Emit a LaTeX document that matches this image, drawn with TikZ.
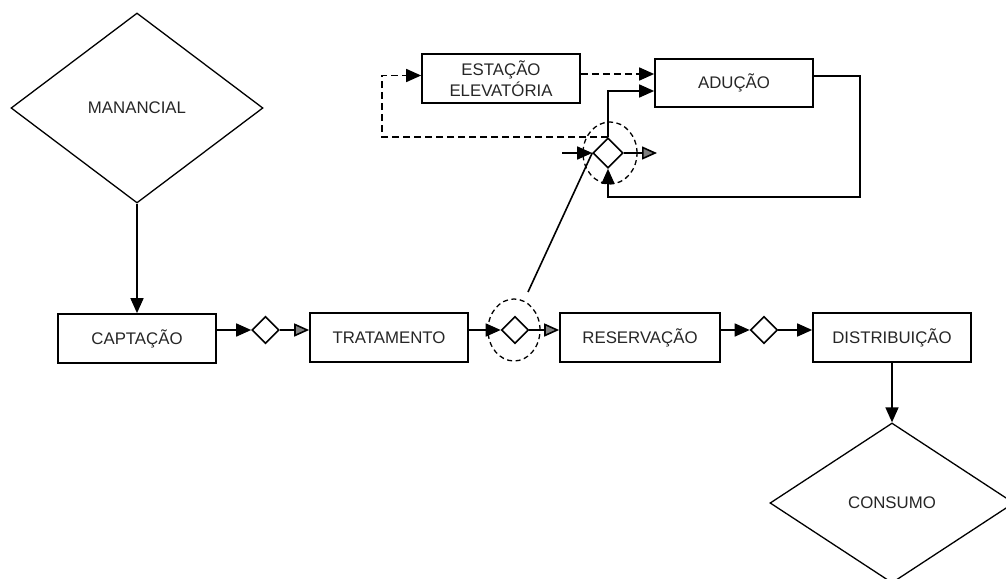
\documentclass[tikz,border=0pt]{standalone}
\usepackage{fontspec}
\setmainfont{Liberation Sans}
\usetikzlibrary{shapes.geometric,arrows.meta}
\begin{document}
\begin{tikzpicture}[x=1pt,y=-1pt,
  every node/.style={font=\fontsize{16.8}{21}\selectfont, text=black!85},
  box/.style={draw, line width=1.7pt, minimum width=158pt, minimum height=49pt, inner sep=0pt, align=center},
  bigdia/.style={draw, diamond, line width=1.3pt, inner sep=0pt},
  smalldia/.style={draw, diamond, line width=1.6pt, minimum width=27pt, minimum height=27pt, inner sep=0pt},
  ring/.style={draw, ellipse, line width=1.3pt, dash pattern=on 5pt off 3.5pt, inner sep=0pt},
  link/.style={line width=1.6pt},
  arr/.style={link, -{Triangle[length=15pt,width=13pt]}},
  garr/.style={link, -{Triangle[length=15pt,width=13pt,fill=black!50]}},
  darr/.style={arr, dash pattern=on 7pt off 4pt},
]
\useasboundingbox (0,0) rectangle (1006,578);

% main row
\node[box] (capt) at (137,338.5) {CAPTAÇÃO};
\node[box] (trat) at (389,337.5) {TRATAMENTO};
\node[box, minimum width=160pt] (res) at (640,337.5) {RESERVAÇÃO};
\node[box] (dist) at (892,337.5) {DISTRIBUIÇÃO};

\node[smalldia] (d1) at (265.5,330) {};
\node[smalldia] (d2) at (515,330) {};
\node[smalldia] (d3) at (764,330) {};
\node[ring, minimum width=52pt, minimum height=62pt] (e2) at (514,330) {};

% end diamonds
\node[bigdia, minimum width=252pt, minimum height=190pt] (man) at (137,108) {MANANCIAL};
\node[bigdia, minimum width=244pt, minimum height=160pt] (cons) at (892,503) {CONSUMO};

% upper part
\node[box] (est) at (501,78.5) {ESTAÇÃO\\ELEVATÓRIA};
\node[box, minimum height=48pt] (adu) at (734,83) {ADUÇÃO};
\node[smalldia, minimum width=30pt, minimum height=30pt] (d4) at (608,153) {};
\node[ring, minimum width=54pt, minimum height=62pt] (e4) at (610,153) {};

\coordinate (in4) at (562,153);
\coordinate (out4) at (657,153);
\coordinate (diag) at (528,292);

% connectors, main row
\draw[arr] (man.south) -- (capt.north);
\draw[arr] (capt.east |- d1.west) -- (d1.west);
\draw[garr] (d1.east) -- (d1.east -| trat.west);
\draw[arr] (trat.east |- d2.west) -- (d2.west);
\draw[garr] (d2.east) -- (d2.east -| res.west);
\draw[arr] (res.east |- d3.west) -- (d3.west);
\draw[arr] (d3.east) -- (d3.east -| dist.west);
\draw[arr] (dist.south) -- (cons.north);

% connectors, upper part
\draw[link] (diag) -- (d4.west);
\draw[arr] (in4) -- (d4.west);
\draw[garr] (d4.east) -- (out4);
\draw[arr] (d4.north) |- ([yshift=-8pt]adu.west);
\draw[darr] ([yshift=4.5pt]est.east) -- ([yshift=4.5pt]est.east -| adu.west);
\draw[darr] (d4.north) -- ++(-226,0) |- ([yshift=3pt]est.west);
\draw[arr] ([yshift=7pt]adu.east) -- ++(46,0) -- ++(0,121) -| (d4.south);
\end{tikzpicture}
\end{document}
